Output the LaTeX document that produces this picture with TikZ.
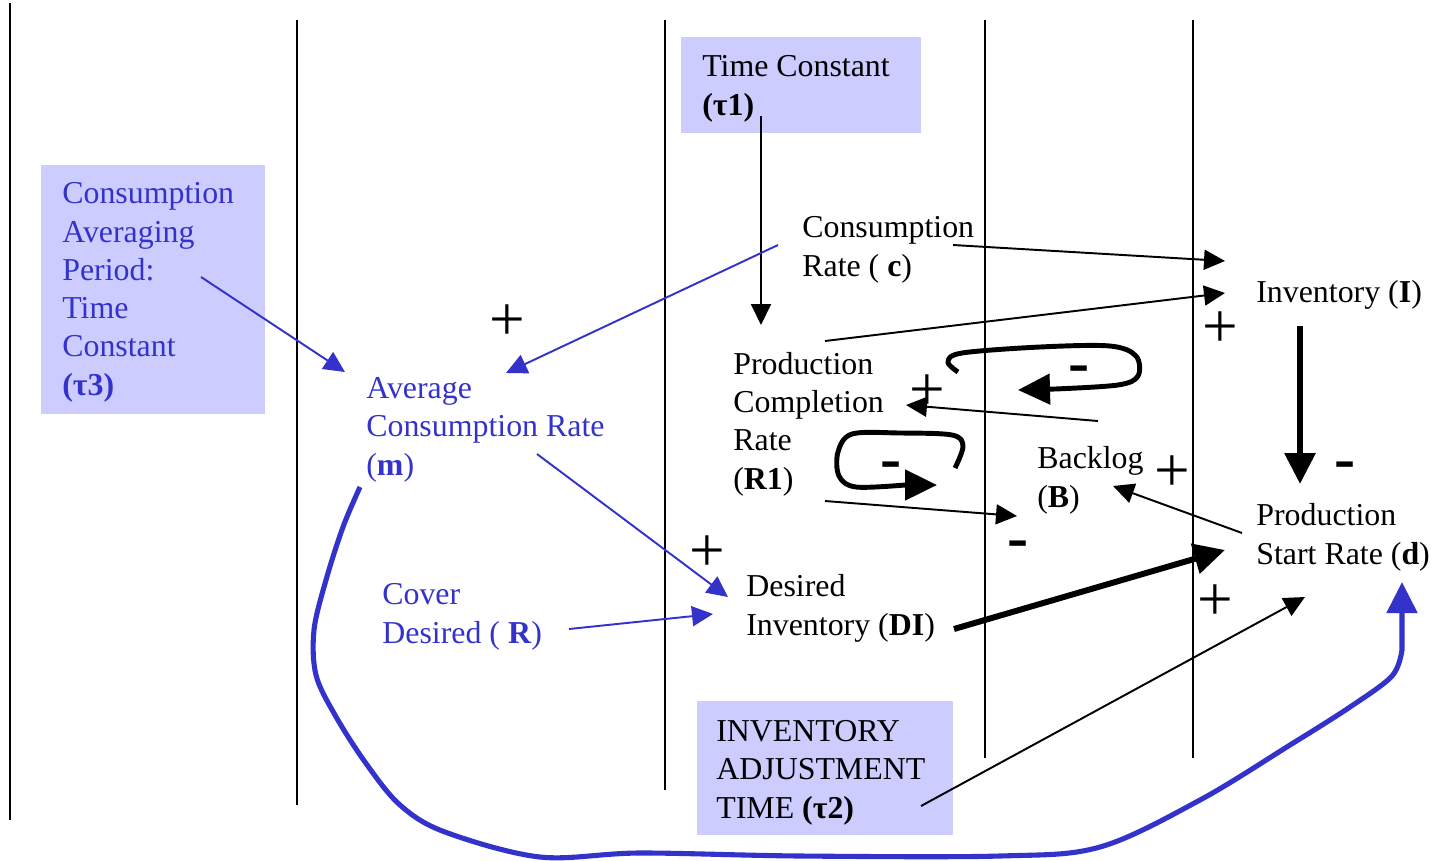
\documentclass[tikz,border=0pt]{standalone}
\usepackage{fontspec}
\setmainfont{Liberation Serif}
\usetikzlibrary{arrows.meta}
\definecolor{panelfill}{HTML}{CCCCFF}
\definecolor{ink}{HTML}{3333CC}
\begin{document}
\begin{tikzpicture}[x=0.02cm,y=-0.02cm,
  % multi-line labels are placed by the baseline of their last line
  lbl/.style={font=\fontsize{18.14}{21.77}\selectfont, align=left, anchor=base west, inner sep=0pt},
  bluelbl/.style={lbl, text=ink},
  panel/.style={fill=panelfill, draw=none},
  sep/.style={line width=1.1pt},
  link/.style={line width=1.1pt, -{Triangle[length=0.42cm,width=0.4cm]}},
  bluelink/.style={link, draw=ink, fill=ink},
  heavylink/.style={line width=3.4pt, -{Triangle[length=0.62cm,width=0.6cm]}},
  looplink/.style={line width=2.8pt, line join=round, -{Triangle[length=0.64cm,width=0.6cm]}},
  pluslbl/.style={font=\fontsize{36}{36}\selectfont, inner sep=0pt, anchor=center},
  minuslbl/.style={font=\fontsize{36}{36}\selectfont\bfseries, inner sep=0pt, anchor=base},
]
\useasboundingbox (0,0) rectangle (1455,860);

% column separators
\draw[sep] (10,3) -- (10,820);
\draw[sep] (297,20) -- (297,805);
\draw[sep] (665,20) -- (665,790);
\draw[sep] (985,20) -- (985,758);
\draw[sep] (1193,20) -- (1193,758);

% shaded parameter panels
\path[panel] (681,37) rectangle (921,133);
\path[panel] (41,165) rectangle (265,414);
\path[panel] (697,701) rectangle (953,835);

% variables
\node[lbl] (tau1) at (702,115) {Time Constant\\\textbf{(τ1)}};
\node[bluelbl] (tau3) at (62,395) {Consumption\\Averaging\\Period:\\Time\\Constant\\\textbf{(τ3)}};
\node[lbl] (cons) at (802,276) {Consumption\\Rate ( \textbf{c})};
\node[lbl] (inv) at (1256,302) {Inventory (\textbf{I})};
\node[lbl] (pcr) at (733,489) {Production\\Completion\\Rate\\(\textbf{R1})};
\node[lbl] (back) at (1037,507) {Backlog\\(\textbf{B})};
\node[lbl] (psr) at (1256,564) {Production\\Start Rate (\textbf{d})};
\node[bluelbl] (avg) at (366,475) {Average\\Consumption Rate\\(\textbf{m})};
\node[lbl] (dinv) at (746,635) {Desired\\Inventory (\textbf{DI})};
\node[bluelbl] (cover) at (382,643) {Cover\\Desired ( \textbf{R})};
\node[lbl] (tau2) at (716,818) {INVENTORY\\ADJUSTMENT\\TIME \textbf{(τ2)}};

% polarity signs
\node[pluslbl] (s1) at (507,323) {+};
\node[pluslbl] (s2) at (707,554) {+};
\node[pluslbl] (s3) at (927,393) {+};
\node[pluslbl] (s4) at (1220,330) {+};
\node[pluslbl] (s5) at (1172,474) {+};
\node[pluslbl] (s6) at (1215,603) {+};
\node[minuslbl] (m1) at (1079,383) {-};
\node[minuslbl] (m2) at (891,479) {-};
\node[minuslbl] (m3) at (1018,558) {-};
\node[minuslbl] (m4) at (1345,479) {-};

% connector end points
\coordinate (tau1o) at (761,116);
\coordinate (pcri) at (761,325);
\coordinate (conso) at (778,245);
\coordinate (avgi) at (506,373);
\coordinate (tau3o) at (201,277);
\coordinate (avgi2) at (345,372);
\coordinate (consr) at (953,245);
\coordinate (invi1) at (1225,261);
\coordinate (pcro) at (825,341);
\coordinate (invi2) at (1225,293);
\coordinate (backo) at (1098,421);
\coordinate (pcri2) at (906,405);
\coordinate (pcro2) at (825,501);
\coordinate (backi) at (1017,516);
\coordinate (psro) at (1242,533);
\coordinate (backi2) at (1113,486);
\coordinate (invo) at (1300,326);
\coordinate (psri) at (1300,484);
\coordinate (dinvo) at (954,629);
\coordinate (psri2) at (1225,550);
\coordinate (tau2o) at (921,806);
\coordinate (psri3) at (1305,597);
\coordinate (avgo) at (537,454);
\coordinate (dinvi) at (728,597);
\coordinate (covero) at (569,629);
\coordinate (dinvi2) at (713,614);
\coordinate (avgo2) at (360,487);
\coordinate (psri4) at (1402,582);

% causal links
\draw[link] (tau1o) -- (pcri);
\draw[bluelink] (conso) -- (avgi);
\draw[bluelink] (tau3o) -- (avgi2);
\draw[link] (consr) -- (invi1);
\draw[link] (pcro) -- (invi2);
\draw[link] (backo) -- (pcri2);
\draw[link] (pcro2) -- (backi);
\draw[link] (psro) -- (backi2);
\draw[heavylink] (invo) -- (psri);
\draw[heavylink] (dinvo) -- (psri2);
\draw[link] (tau2o) -- (psri3);
\draw[bluelink] (avgo) -- (dinvi);
\draw[bluelink] (covero) -- (dinvi2);

% feedback loop markers
\draw[looplink] plot[smooth, tension=0.55] coordinates {(958,372) (948,362) (962,353) (1040,347) (1110,346) (1136,356) (1138,376) (1118,385) (1055,389)} -- (1018,390);
\draw[looplink] plot[smooth, tension=0.55] coordinates {(955,468) (963,446) (952,435) (900,433) (852,434) (838,452) (839,476) (856,487) (905,485)} -- (937,485);

% long link from average consumption to production start
\draw[draw=ink, line width=2.9pt, line join=round, -{Triangle[length=0.62cm,width=0.6cm]}, fill=none]
  plot[smooth, tension=0.55] coordinates {(avgo2) (343,527) (326,580) (314,630) (316,675) (335,715) (365,762) (400,805) (445,832) (540,857) (640,853) (800,856) (1000,856) (1100,847) (1200,800) (1290,745) (1350,707) (1392,676) (1402,650)} -- (psri4);
\end{tikzpicture}
\end{document}
